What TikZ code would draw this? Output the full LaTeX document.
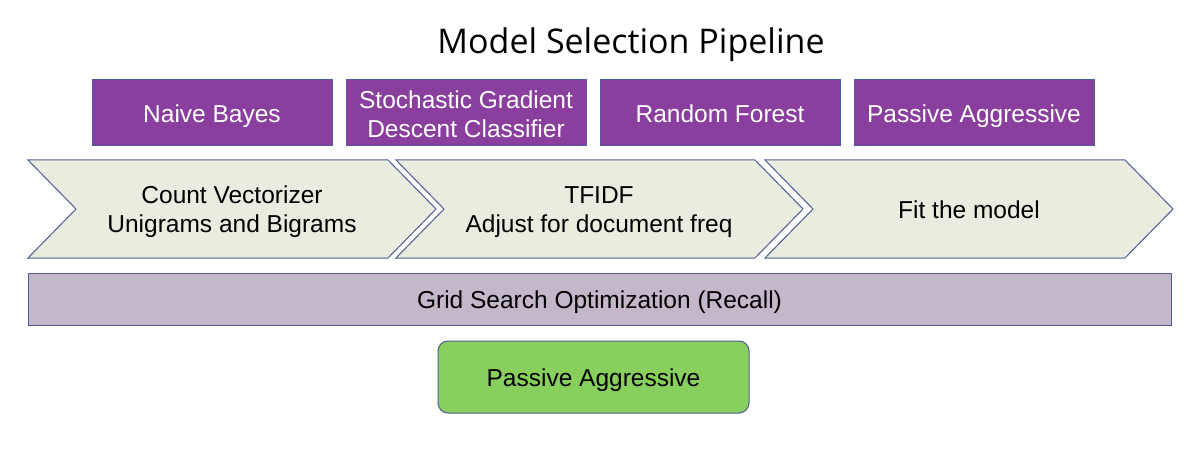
\documentclass[tikz,border=0pt]{standalone}
\usepackage{fontspec}
\setmainfont{Liberation Sans}
\newfontfamily\titlefont{Open Sans}
\definecolor{purp}{HTML}{8A3F9E}
\definecolor{edge}{HTML}{4E5B95}
\definecolor{chev}{HTML}{EBECE0}
\definecolor{grid}{HTML}{C4B7C9}
\definecolor{grn}{HTML}{88CF5E}
\tikzset{
  model/.style={draw=edge, fill=purp, line width=1pt, inner sep=0pt, minimum width=240pt, minimum height=66pt},
  modeltext/.style={text=white, font=\fontsize{24.5}{29}\selectfont, align=center, inner sep=0pt},
  chevtext/.style={font=\fontsize{24.5}{29}\selectfont, align=center, inner sep=0pt},
  chevshape/.style={draw=edge, fill=chev, line width=1pt, line join=miter},
}
\begin{document}
\begin{tikzpicture}[x=1pt,y=-1pt]
\useasboundingbox (0,0) rectangle (1202,473);
\node[font=\titlefont\fontsize{34}{40}\selectfont, inner sep=0pt] (title) at (631,45) {Model Selection Pipeline};
% model boxes
\node[model] (nb) at (212,113) {};
\node[model] (sgd) at (466,113) {};
\node[model] (rf) at (720,113) {};
\node[model] (pa) at (974,113) {};
\node[modeltext] (nbt) at (212,116) {Naive Bayes};
\node[modeltext] (sgdt) at (466,114) {Stochastic Gradient\\Descent Classifier};
\node[modeltext] (rft) at (720,114) {Random Forest};
\node[modeltext] (pat) at (974,116) {Passive Aggressive};
% chevrons
\draw[chevshape] (28,160) -- (388,160) -- (436,209) -- (388,258) -- (28,258) -- (76,209) -- cycle;
\draw[chevshape] (396,160) -- (755,160) -- (803,209) -- (755,258) -- (396,258) -- (444,209) -- cycle;
\draw[chevshape] (765,160) -- (1125,160) -- (1173,209) -- (1125,258) -- (765,258) -- (813,209) -- cycle;
\node[chevtext] (cv) at (232,212) {Count Vectorizer\\Unigrams and Bigrams};
\node[chevtext] (tf) at (599,212) {TFIDF\\Adjust for document freq};
\node[chevtext] (fit) at (969,210) {Fit the model};
% grid search
\node[draw=edge, fill=grid, line width=1pt, minimum width=1143pt, minimum height=52pt, inner sep=0pt] (gs) at (599.5,299) {};
\node[inner sep=0pt, font=\fontsize{24.5}{29}\selectfont] (gst) at (599.5,302) {Grid Search Optimization (Recall)};
% result
\node[draw=edge, fill=grn, line width=1pt, rounded corners=10pt, minimum width=311pt, minimum height=72pt, inner sep=0pt] (res) at (593.5,377) {};
\node[inner sep=0pt, font=\fontsize{24.5}{29}\selectfont] (rest) at (593.5,380) {Passive Aggressive};
\end{tikzpicture}
\end{document}
